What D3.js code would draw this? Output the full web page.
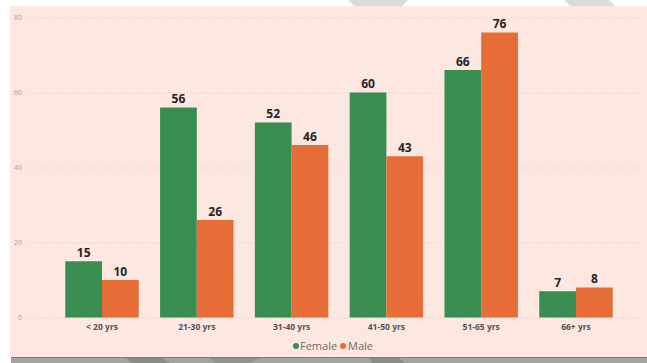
<!DOCTYPE html>
<html>
<head>
<meta charset="utf-8">
<script src="https://cdn.jsdelivr.net/npm/d3@7"></script>
<style>
  html, body { margin: 0; padding: 0; background: #ffffff; }
  svg { display: block; }
</style>
</head>
<body>
<svg id="chart" width="647" height="363"></svg>
<script>
// Age groups and counts by gender
const categories = ["< 20 yrs", "21-30 yrs", "31-40 yrs", "41-50 yrs", "51-65 yrs", "66+ yrs"];
const female = [15, 56, 52, 60, 66, 7];
const male = [10, 26, 46, 43, 76, 8];
const seriesNames = ["Female", "Male"];
const yTicks = [0, 20, 40, 60, 80];

const colors = { Female: "#388E50", Male: "#E66C38" };
const W = 647, H = 363;
const svg = d3.select("#chart");

// backdrop: light wedges above the card, shadow strip beneath it
const bg = svg.append("g");
bg.append("polygon").attr("points", "348,0 408,0 402,6 354,6").attr("fill", "#dcdcdc");
bg.append("polygon").attr("points", "564,0 609,0 615,6 570,6").attr("fill", "#dcdcdc");
bg.append("rect").attr("x", 11).attr("y", 357).attr("width", W - 11).attr("height", 6).attr("fill", "#a3a3a3");
bg.append("polygon").attr("points", "125,357 160,357 170,363 132,363").attr("fill", "#8a8a8a");
bg.append("polygon").attr("points", "207,357 262,357 250,363 215,363").attr("fill", "#939393");
bg.append("polygon").attr("points", "368,357 398,357 405,363 372,363").attr("fill", "#8c8c8c");
bg.append("rect").attr("x", 11).attr("y", 357).attr("width", W - 11).attr("height", 1).attr("fill", "#7c7c7c");

// card
svg.append("rect").attr("x", 10).attr("y", 6).attr("width", W - 10).attr("height", 351).attr("fill", "#FCE8E1");

const y = d3.scaleLinear().domain([0, 80]).range([317.5, 17.5]);
const x0 = d3.scaleBand().domain(categories).range([54.6, 623.4]).paddingInner(0.225).paddingOuter(0.1125);
const x1 = d3.scaleBand().domain(seriesNames).range([0, x0.bandwidth()]).padding(0);

// gridlines and value ticks
const yAxis = d3.axisLeft(y).tickValues(yTicks).tickSize(0).tickPadding(0);
const gy = svg.append("g").attr("transform", "translate(22,0)").call(yAxis);
gy.select(".domain").remove();
gy.selectAll("text")
  .attr("font-family", "'Open Sans', 'Noto Sans', sans-serif")
  .attr("font-size", 7)
  .attr("fill", "#a29c99");

svg.append("g").selectAll("line").data(yTicks).join("line")
  .attr("x1", 27).attr("x2", 641)
  .attr("y1", d => y(d) + 0.5).attr("y2", d => y(d) + 0.5)
  .attr("stroke", "#dccbc5").attr("stroke-width", 1)
  .attr("stroke-dasharray", "1,2.2");

// bars
const rows = categories.map((c, i) => ({ cat: c, values: [
  { key: "Female", value: female[i] },
  { key: "Male", value: male[i] }
]}));

const groups = svg.append("g").selectAll("g").data(rows).join("g")
  .attr("transform", d => `translate(${x0(d.cat)},0)`);

groups.selectAll("rect").data(d => d.values).join("rect")
  .attr("x", d => x1(d.key))
  .attr("y", d => y(d.value))
  .attr("width", x1.bandwidth())
  .attr("height", d => y(0) - y(d.value))
  .attr("fill", d => colors[d.key]);

groups.selectAll("text").data(d => d.values).join("text")
  .attr("x", d => x1(d.key) + x1.bandwidth() / 2)
  .attr("y", d => y(d.value) - 4.5)
  .attr("text-anchor", "middle")
  .attr("font-family", "'Open Sans', 'Noto Sans', sans-serif")
  .attr("font-weight", 700)
  .attr("font-size", 12)
  .attr("fill", "#252423")
  .text(d => d.value);

// category axis
const xAxis = d3.axisBottom(x0).tickSize(0).tickPadding(0);
const gx = svg.append("g").attr("transform", "translate(0,330)").call(xAxis);
gx.select(".domain").remove();
gx.selectAll("text")
  .attr("dy", 0)
  .attr("font-family", "'Open Sans', 'Noto Sans', sans-serif")
  .attr("font-weight", 700)
  .attr("font-size", 8.5)
  .attr("fill", "#545250");

// legend
const legendItems = [
  { key: "Female", cx: 296, tx: 300 },
  { key: "Male", cx: 343, tx: 348 }
];
const lg = svg.append("g");
lg.selectAll("circle").data(legendItems).join("circle")
  .attr("cx", d => d.cx).attr("cy", 346).attr("r", 3)
  .attr("fill", d => colors[d.key]);
lg.selectAll("text").data(legendItems).join("text")
  .attr("x", d => d.tx).attr("y", 350)
  .attr("font-family", "'Open Sans', 'Noto Sans', sans-serif")
  .attr("font-size", 11)
  .attr("fill", "#6f6b69")
  .text(d => d.key);
</script>
</body>
</html>
